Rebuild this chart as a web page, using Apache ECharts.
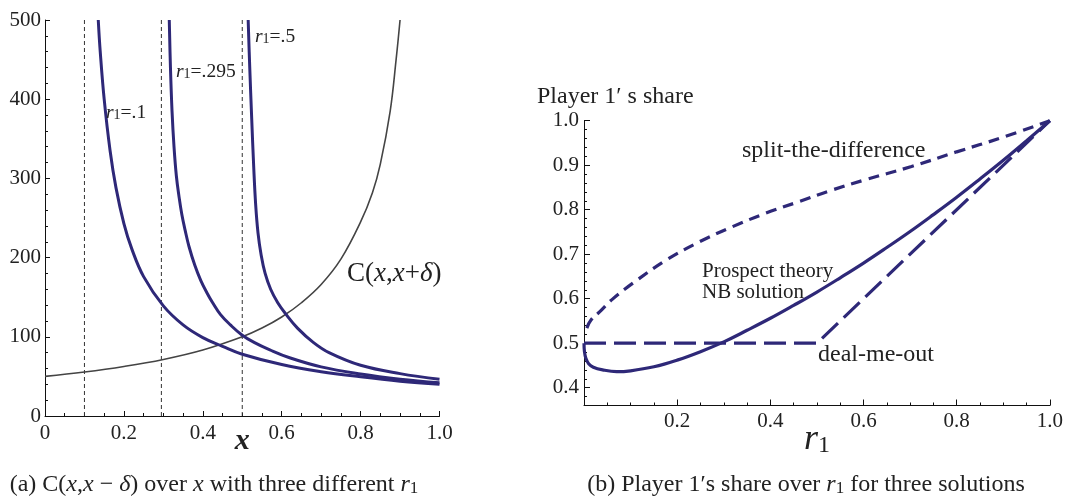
<!DOCTYPE html>
<html>
<head>
<meta charset="utf-8">
<script src="https://cdn.jsdelivr.net/npm/echarts@6/dist/echarts.min.js"></script>
<style>html,body{margin:0;padding:0;background:#fff;}#c{width:1066px;height:500px;}</style>
</head>
<body>
<div id="c"></div>
<script>
// ---- Panel (a) data ----
const vlineX = [0.1, 0.295, 0.5];
const grayCurve = [[0,50],[0.1,55.5],[0.2,62.5],[0.3,71.4],[0.4,83.3],[0.5,100],[0.55,111],[0.6,125],[0.65,143],[0.7,166],[0.75,198],[0.8,245],[0.83,282],[0.85,318],[0.875,385],[0.89,450],[0.9,500]];
const curveR01 = [[0.135,500],[0.14,460],[0.15,400],[0.165,335],[0.18,288],[0.2,243],[0.22,211],[0.25,176],[0.3,139],[0.35,115],[0.4,99],[0.45,88],[0.5,78],[0.6,65],[0.7,56],[0.8,49.5],[0.9,44],[1,40]];
const curveR0295 = [[0.315,500],[0.318,440],[0.322,385],[0.327,340],[0.333,303],[0.34,276],[0.347,254],[0.355,235],[0.365,214],[0.38,190],[0.395,171],[0.41,156],[0.425,143],[0.445,128],[0.47,115],[0.5,102],[0.53,93],[0.57,83.5],[0.62,73.5],[0.7,62],[0.8,53],[0.9,46.5],[1,42]];
const curveR05 = [[0.515,500],[0.519,440],[0.524,375],[0.529,315],[0.534,267],[0.54,231],[0.548,203],[0.558,180],[0.572,160],[0.59,143],[0.61,129],[0.64,111],[0.68,93],[0.72,80],[0.8,64],[0.9,53.5],[1,46.5]];
const leftYTicks = [0, 100, 200, 300, 400, 500];

// ---- Panel (b) data ----
const splitDiff = [[0.006,0.534],[0.015,0.552],[0.034,0.571],[0.06,0.598],[0.105,0.635],[0.177,0.687],[0.248,0.728],[0.319,0.762],[0.39,0.792],[0.461,0.818],[0.532,0.844],[0.603,0.867],[0.703,0.897],[0.8,0.93],[0.9,0.963],[1,1]];
const dealMeOut = [[0,0.5],[0.5,0.5],[1,1]];
const prospectNB = [[0,0.5],[0.001,0.481],[0.004,0.466],[0.01,0.454],[0.02,0.446],[0.04,0.44],[0.07,0.436],[0.1,0.438],[0.15,0.447],[0.2,0.462],[0.25,0.481],[0.3,0.503],[0.35,0.529],[0.4,0.556],[0.45,0.585],[0.5,0.615],[0.55,0.647],[0.6,0.68],[0.65,0.715],[0.7,0.751],[0.75,0.789],[0.8,0.828],[0.85,0.869],[0.9,0.911],[0.95,0.955],[1,1]];
const rightYTicks = [0.4, 0.5, 0.6, 0.7, 0.8, 0.9, 1.0];

const SERIF = '"Liberation Serif", "DejaVu Serif", serif';
const INK = '#222';
const BLUE = '#2e2878';

function rich(fs) {
  return {
    n: {fontFamily: SERIF, fontSize: fs, color: INK, fontWeight: 'normal', lineHeight: fs + 4, verticalAlign: 'bottom'},
    i: {fontFamily: SERIF, fontSize: fs, fontStyle: 'italic', fontWeight: 'normal', color: INK, lineHeight: fs + 4, verticalAlign: 'bottom'},
    s: {fontFamily: SERIF, fontSize: Math.round(fs * 0.7), fontWeight: 'normal', color: INK, lineHeight: Math.round(fs * 0.6), verticalAlign: 'bottom'}
  };
}
function label(text, left, top, fs, opts) {
  opts = opts || {};
  return {text: text, left: left, top: top, padding: 0, itemGap: 0, textAlign: opts.textAlign,
    textStyle: {fontFamily: SERIF, fontSize: fs, color: INK, fontWeight: 'normal', lineHeight: opts.lineHeight || (fs + 4), rich: rich(fs)}};
}

const tickFont = {fontFamily: SERIF, fontSize: 21, color: INK};
const axisLine = {show: true, onZero: false, lineStyle: {color: '#111', width: 1}};
function fmt1(v) { return v === 0 ? '0' : v.toFixed(1); }

function vline(x) {
  return {type: 'line', xAxisIndex: 0, yAxisIndex: 0, data: [[x, leftYTicks[0]], [x, leftYTicks[leftYTicks.length - 1]]],
    symbol: 'none', silent: true, lineStyle: {color: '#333', width: 1, type: [4, 3]}, z: 1};
}
function curve(data, xi, yi, color, width, type) {
  return {type: 'line', xAxisIndex: xi, yAxisIndex: yi, data: data, symbol: 'none', smooth: 0.4,
    silent: true, lineStyle: {color: color, width: width, type: type || 'solid', cap: 'butt'}, z: 3};
}

const chart = echarts.init(document.getElementById('c'), null, {renderer: 'canvas'});
chart.setOption({
  animation: false,
  backgroundColor: '#fff',
  title: [
    label('{i|r}{s|1}{n|=.1}', 106, 99, 19.5),
    label('{i|r}{s|1}{n|=.295}', 176, 58, 19.5),
    label('{i|r}{s|1}{n|=.5}', 255, 23, 19.5),
    label('{n|C(}{i|x}{n|,}{i|x}{n|+}{i|δ}{n|)}', 347, 256, 27),
    label('Player 1′ s share', 537, 83, 24),
    label('split-the-difference', 742, 137, 24),
    label('Prospect theory\nNB solution', 702, 261, 21, {lineHeight: 21}),
    label('deal-me-out', 818, 341, 24),
    label('{n|(a) C(}{i|x}{n|,}{i|x}{n| − }{i|δ}{n|) over }{i|x}{n| with three different }{i|r}{s|1}', 214, 469, 24, {textAlign: 'center'}),
    label('{n|(b) Player 1′s share over }{i|r}{s|1}{n| for three solutions}', 806, 469, 24, {textAlign: 'center'})
  ],
  grid: [
    {left: 45, top: 20, width: 394.5, height: 396},
    {left: 584, top: 120.7, width: 468.5, height: 284.8}
  ],
  xAxis: [
    {gridIndex: 0, type: 'value', min: 0, max: 1, interval: 0.2,
      axisLine: axisLine, axisTick: {show: true, inside: true, length: 5, lineStyle: {color: '#111'}},
      minorTick: {show: true, splitNumber: 4, length: 3, lineStyle: {color: '#111'}},
      splitLine: {show: false}, minorSplitLine: {show: false},
      axisLabel: Object.assign({margin: 7, formatter: fmt1}, tickFont),
      name: 'x', nameLocation: 'middle', nameGap: 10, nameMoveOverlap: false,
      nameTextStyle: {fontFamily: SERIF, fontSize: 30, fontStyle: 'italic', fontWeight: 'bold', color: INK}},
    {gridIndex: 1, type: 'value', min: 0, max: 1, interval: 0.2,
      axisLine: axisLine, axisTick: {show: true, inside: true, length: 6, lineStyle: {color: '#111'}},
      minorTick: {show: true, splitNumber: 4, length: 3, lineStyle: {color: '#111'}},
      splitLine: {show: false},
      axisLabel: Object.assign({margin: 5, formatter: function (v) { return v === 0 ? '' : v.toFixed(1); }}, tickFont),
      name: '{i|r}{s|1}', nameLocation: 'middle', nameGap: 14, nameMoveOverlap: false,
      nameTextStyle: {rich: {
        i: {fontFamily: SERIF, fontSize: 36, fontStyle: 'italic', color: INK, lineHeight: 38, verticalAlign: 'bottom'},
        s: {fontFamily: SERIF, fontSize: 24, color: INK, lineHeight: 26, verticalAlign: 'bottom'}}}}
  ],
  yAxis: [
    {gridIndex: 0, type: 'value', min: 0, max: 500, interval: 100,
      axisLine: axisLine, axisTick: {show: true, inside: true, length: 5, lineStyle: {color: '#111'}},
      minorTick: {show: true, splitNumber: 5, length: 3, lineStyle: {color: '#111'}},
      splitLine: {show: false},
      axisLabel: Object.assign({margin: 4}, tickFont)},
    {gridIndex: 1, type: 'value', position: 'left', min: 0.36, max: 1, interval: 0.02,
      axisLine: axisLine, axisTick: {show: true, inside: true, length: 3, lineStyle: {color: '#111'}},
      splitLine: {show: false}, axisLabel: {show: false}},
    {gridIndex: 1, type: 'value', position: 'left', offset: 0, min: 0.36, max: 1,
      axisLine: {show: false, onZero: false},
      axisTick: {show: true, inside: true, length: 6, customValues: rightYTicks, lineStyle: {color: '#111'}},
      splitLine: {show: false},
      axisLabel: Object.assign({margin: 5, customValues: rightYTicks, formatter: function (v) { return v.toFixed(1); }}, tickFont)}
  ],
  series: [
    vline(vlineX[0]), vline(vlineX[1]), vline(vlineX[2]),
    curve(grayCurve, 0, 0, '#444', 1.6),
    curve(curveR01, 0, 0, BLUE, 3),
    curve(curveR0295, 0, 0, BLUE, 3),
    curve(curveR05, 0, 0, BLUE, 3),
    curve(splitDiff, 1, 1, BLUE, 3.2, [11, 7]),
    Object.assign(curve(dealMeOut, 1, 1, BLUE, 3.2, [22, 8]), {smooth: false}),
    curve(prospectNB, 1, 1, BLUE, 3.2)
  ]
});
</script>
</body>
</html>
